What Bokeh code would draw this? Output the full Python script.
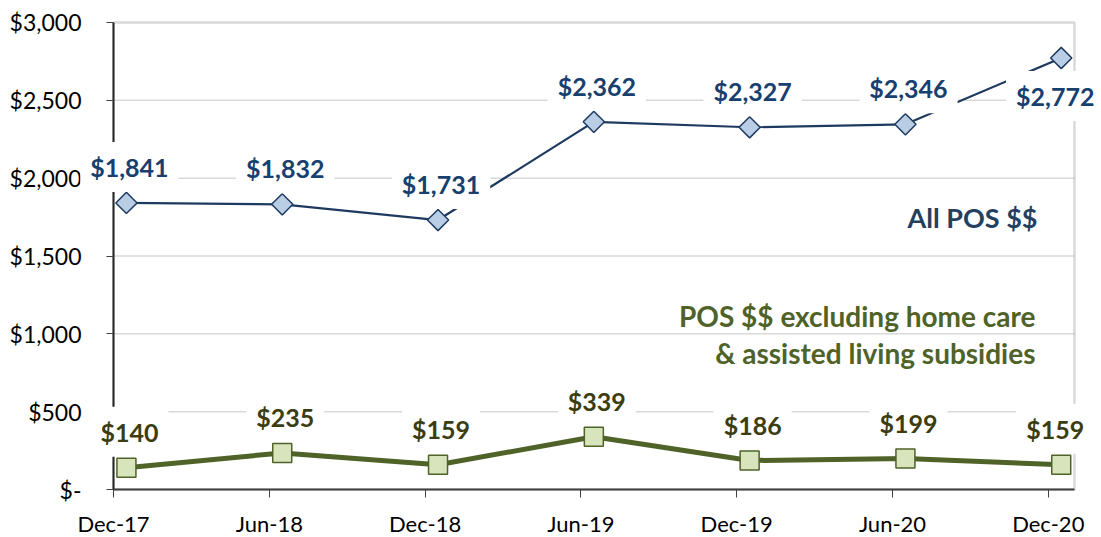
from bokeh.plotting import figure
from bokeh.models import ColumnDataSource, Range1d, FixedTicker, Label, BoxAnnotation
from bokeh.embed import file_html
from bokeh.resources import INLINE

periods = ["Dec-17", "Jun-18", "Dec-18", "Jun-19", "Dec-19", "Jun-20", "Dec-20"]
all_pos = [1841, 1832, 1731, 2362, 2327, 2346, 2772]
excl_pos = [140, 235, 159, 339, 186, 199, 159]
all_label_dx = [3, 3, 3, 3, 3, 3, -6]
all_label_dy = [36, 36, 36, 36, 36, 36, -38]
excl_label_dx = [3, 3, 3, 3, 3, 3, -6]
excl_label_dy = [36, 36, 36, 36, 36, 36, 36]
y_ticks = [0, 500, 1000, 1500, 2000, 2500, 3000]
y_tick_labels = ["$-", "$500", "$1,000", "$1,500", "$2,000", "$2,500", "$3,000"]

FONT = "Lato"
idx = list(range(len(periods)))
shift = 0.083
xs = [i + shift for i in idx]

# plot-area extents in data units
X_END = 6.168
Y_END = 3000

src_all = ColumnDataSource(dict(x=xs, y=all_pos))
src_ex = ColumnDataSource(dict(x=xs, y=excl_pos))
grid_y = y_ticks[1:-1]
src_grid = ColumnDataSource(dict(x0=[0] * len(grid_y), x1=[X_END] * len(grid_y), y=grid_y))

p = figure(width=1101, height=537, output_backend="svg", toolbar_location=None,
           x_range=Range1d(-0.7253, 6.3415), y_range=Range1d(-308.3, 3141.3),
           min_border=0, min_border_left=0, min_border_right=0,
           min_border_top=0, min_border_bottom=0)
p.background_fill_color = "white"
p.border_fill_color = "white"
p.outline_line_color = None
p.xgrid.visible = False
p.ygrid.visible = False

# gridlines limited to plot area
p.segment(x0="x0", x1="x1", y0="y", y1="y", source=src_grid,
          line_color="#d9d9d9", line_width=1.5, level="underlay")

# plot-area frame (top / right grey border)
p.add_layout(BoxAnnotation(left=0, right=X_END, bottom=0, top=Y_END,
                           fill_alpha=0, line_color="#808080", line_width=2.5,
                           level="underlay"))

p.yaxis.fixed_location = 0
p.yaxis.bounds = (0, Y_END)
p.yaxis.ticker = FixedTicker(ticks=y_ticks)
p.yaxis.major_label_overrides = {t: l for t, l in zip(y_ticks, y_tick_labels)}
p.yaxis.axis_line_color = "#262626"
p.yaxis.axis_line_width = 2
p.yaxis.major_tick_line_color = "#404040"
p.yaxis.major_tick_out = 7
p.yaxis.major_tick_in = 0
p.yaxis.minor_tick_line_color = None
p.yaxis.major_label_standoff = 25
p.yaxis.major_label_text_font = FONT
p.yaxis.major_label_text_font_size = "23px"
p.yaxis.major_label_text_color = "#000000"

p.xaxis.fixed_location = 0
p.xaxis.bounds = (0, X_END)
p.xaxis.ticker = FixedTicker(ticks=idx)
p.xaxis.major_label_overrides = {i: s for i, s in zip(idx, periods)}
p.xaxis.axis_line_color = "#404040"
p.xaxis.axis_line_width = 2
p.xaxis.major_tick_line_color = "#404040"
p.xaxis.major_tick_out = 8
p.xaxis.major_tick_in = 0
p.xaxis.minor_tick_line_color = None
p.xaxis.major_label_standoff = 12
p.xaxis.major_label_text_font = FONT
p.xaxis.major_label_text_font_size = "22px"
p.xaxis.major_label_text_color = "#000000"

navy = "#1f3a60"
olive = "#4f6228"

p.line("x", "y", source=src_all, line_color=navy, line_width=2.2)
p.scatter("x", "y", source=src_all, marker="square", size=15, angle=45, angle_units="deg",
          fill_color="#b9cde5", line_color=navy, line_width=1.5)

p.line("x", "y", source=src_ex, line_color=olive, line_width=5)
p.scatter("x", "y", source=src_ex, marker="square", size=19,
          fill_color="#d7e4bc", line_color=olive, line_width=1.5)

for xv, yv, dx, dy in zip(xs, all_pos, all_label_dx, all_label_dy):
    p.add_layout(Label(x=xv, y=yv, x_offset=dx, y_offset=dy, text="${:,}".format(yv),
                       text_align="center", text_baseline="middle",
                       text_font=FONT, text_font_style="bold", text_font_size="25px",
                       text_color="#17406f", background_fill_color="white", padding=10))
for xv, yv, dx, dy in zip(xs, excl_pos, excl_label_dx, excl_label_dy):
    p.add_layout(Label(x=xv, y=yv, x_offset=dx, y_offset=dy, text="${:,}".format(yv),
                       text_align="center", text_baseline="middle",
                       text_font=FONT, text_font_style="bold", text_font_size="25px",
                       text_color="#3b3d10", background_fill_color="white", padding=10))

p.add_layout(Label(x=1037, y=537 - 217, x_units="screen", y_units="screen",
                   text="All POS $$", text_align="right", text_baseline="middle",
                   text_font=FONT, text_font_style="bold", text_font_size="27px",
                   text_color="#243f60"))
p.add_layout(Label(x=1035, y=537 - 334, x_units="screen", y_units="screen",
                   text="POS $$ excluding home care\n& assisted living subsidies",
                   text_align="right", text_baseline="middle", text_line_height=1.1,
                   text_font=FONT, text_font_style="bold", text_font_size="28px",
                   text_color=olive))

open("out.html", "w").write(file_html(p, INLINE))
